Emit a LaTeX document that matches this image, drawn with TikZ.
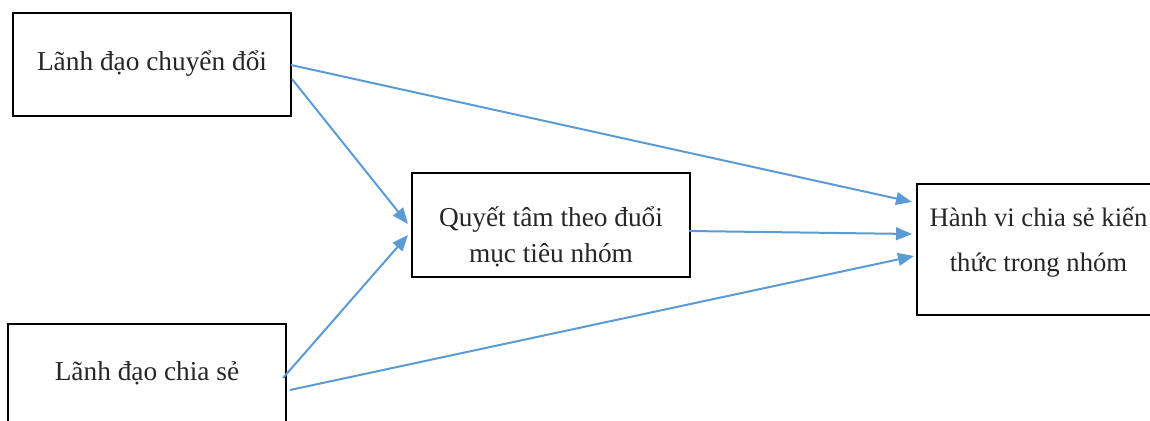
\documentclass[tikz,border=0pt]{standalone}
\usepackage{fontspec}
\setmainfont{Liberation Serif}
\usetikzlibrary{arrows.meta}
\definecolor{arrowblue}{HTML}{5B9BD5}
\newcommand\mybt[3]{\raisebox{0pt}[#1][#2]{\setlength\tabcolsep{0pt}\begin{tabular}[t]{c}#3\end{tabular}}}
\begin{document}
\begin{tikzpicture}[x=0.75pt,y=-0.75pt,
  box/.style={draw=black,line width=1.1pt,inner sep=0pt,outer sep=0pt,align=center,
    font=\fontsize{20.5}{27.5}\selectfont,text=black!85},
  link/.style={draw=arrowblue,line width=1.5pt,-{Triangle[length=12pt,width=9.5pt]}}]
\useasboundingbox (0,0) rectangle (1150,421);
\clip (0,0) rectangle (1150,421);
\node[box,minimum width=208.5pt,minimum height=77.25pt] (b1) at (152,64.5) {\mybt{8.25pt}{0pt}{Lãnh đạo chuyển đổi}};
\node[box,minimum width=208.5pt,minimum height=77.25pt] (b2) at (147,375.5) {\mybt{6.75pt}{0pt}{Lãnh đạo chia sẻ}};
\node[box,minimum width=208.5pt,minimum height=78pt] (b3) at (551,225) {\mybt{1.5pt}{0pt}{Quyết tâm theo đuổi\\mục tiêu nhóm}};
\node[box,minimum width=182pt,minimum height=98.25pt,font=\fontsize{20}{33.75}\selectfont] (b4) at (1038.5,249.5) {\mybt{0pt}{34.2pt}{Hành vi chia sẻ kiến\\thức trong nhóm}};
\coordinate (a1s) at (291,65);  \coordinate (a1e) at (912,202);
\coordinate (a2s) at (292,79);  \coordinate (a2e) at (408,224);
\coordinate (a3s) at (283,378); \coordinate (a3e) at (408,235);
\coordinate (a4s) at (689,231); \coordinate (a4e) at (912,234);
\coordinate (a5s) at (290,390); \coordinate (a5e) at (914,256);
\draw[link] (a1s) -- (a1e);
\draw[link] (a2s) -- (a2e);
\draw[link] (a3s) -- (a3e);
\draw[link] (a4s) -- (a4e);
\draw[link] (a5s) -- (a5e);
\end{tikzpicture}
\end{document}
